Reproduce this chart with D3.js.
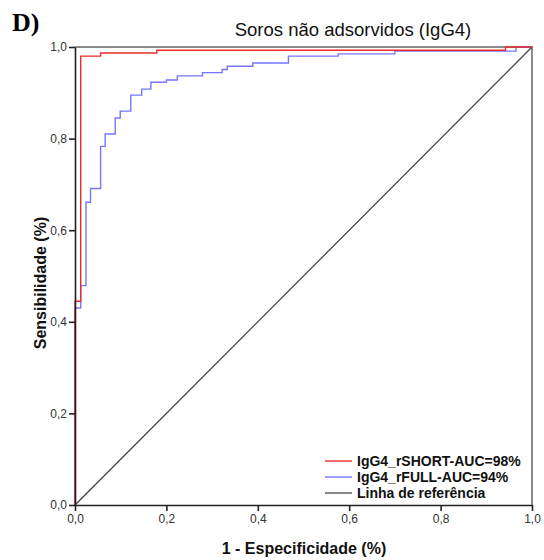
<!DOCTYPE html>
<html>
<head>
<meta charset="utf-8">
<script src="https://cdn.jsdelivr.net/npm/d3@7"></script>
<style>
  body { margin: 0; background: #fff; }
  svg { display: block; }
</style>
</head>
<body>
<svg id="chart" width="544" height="560"></svg>
<script>
// ROC vertices (1 - especificidade, sensibilidade)
const shortFpr = [0, 0, 0.0125, 0.056, 0.179, 0.942, 1];
const shortTpr = [0, 0.445, 0.980, 0.987, 0.993, 1.0, 1];

const fullFpr = [0, 0, 0.0125, 0.024, 0.034, 0.056, 0.066, 0.088, 0.099, 0.122, 0.146, 0.166,
  0.200, 0.224, 0.279, 0.322, 0.333, 0.389, 0.467, 0.576, 0.700, 0.965, 1];
const fullTpr = [0, 0.430, 0.479, 0.661, 0.691, 0.783, 0.810, 0.845, 0.860, 0.895, 0.908, 0.923,
  0.928, 0.937, 0.944, 0.951, 0.958, 0.965, 0.980, 0.985, 0.991, 1.0, 1];

const refLine = [[0, 0], [1, 1]];
const tickValues = [0, 0.2, 0.4, 0.6, 0.8, 1.0];
const legendLabels = ["IgG4_rSHORT-AUC=98%", "IgG4_rFULL-AUC=94%", "Linha de referência"];
const legendColors = ["#ee2b2b", "#7676ff", "#555"];

const svg = d3.select("#chart");
const margin = { left: 75, top: 47, right: 12, bottom: 55 };
const W = 544, H = 560;

const x = d3.scaleLinear().domain([0, 1]).range([margin.left, W - margin.right]);
const y = d3.scaleLinear().domain([0, 1]).range([H - margin.bottom, margin.top]);

const fmt = d => d3.format(".1f")(d).replace(".", ",");

// frame (top and right) in gray
svg.append("path")
  .attr("d", `M${x(0)},${y(1)}H${x(1)}V${y(0)}`)
  .attr("fill", "none")
  .attr("stroke", "#8a8a8a")
  .attr("stroke-width", 2);

// reference diagonal
let line = d3.line().x(p => x(p[0])).y(p => y(p[1]));
svg.append("path")
  .attr("d", line(refLine))
  .attr("fill", "none")
  .attr("stroke", "#444")
  .attr("stroke-width", 1.3);

// step curves
let stepLine = d3.line().x(p => x(p[0])).y(p => y(p[1])).curve(d3.curveStepAfter);

svg.append("path")
  .attr("d", stepLine(fullFpr.map((f, i) => [f, fullTpr[i]])))
  .attr("fill", "none")
  .attr("stroke", legendColors[1])
  .attr("stroke-width", 1.4);

svg.append("path")
  .attr("d", stepLine(shortFpr.map((f, i) => [f, shortTpr[i]])))
  .attr("fill", "none")
  .attr("stroke", legendColors[0])
  .attr("stroke-width", 1.4);

// axes
const xAxis = svg.append("g")
  .attr("transform", `translate(0,${y(0)})`)
  .call(d3.axisBottom(x).tickValues(tickValues).tickFormat(fmt).tickSize(6).tickPadding(3).tickSizeOuter(0));
const yAxis = svg.append("g")
  .attr("transform", `translate(${x(0)},0)`)
  .call(d3.axisLeft(y).tickValues(tickValues).tickFormat(fmt).tickSize(6).tickPadding(2).tickSizeOuter(0));

[xAxis, yAxis].forEach(g => {
  g.select(".domain").attr("stroke", "#222").attr("stroke-width", 1.6);
  g.selectAll(".tick line").attr("stroke", "#222").attr("stroke-width", 1.6);
  g.selectAll(".tick text")
    .attr("fill", "#333")
    .style("font-family", "Liberation Sans, Arial, sans-serif")
    .style("font-size", "12px");
});

// titles
svg.append("text")
  .attr("x", 12).attr("y", 31)
  .style("font-family", "Liberation Serif, Times New Roman, serif")
  .style("font-weight", "bold")
  .style("font-size", "26px")
  .text("D)");

svg.append("text")
  .attr("x", 353).attr("y", 36)
  .attr("text-anchor", "middle")
  .attr("fill", "#111")
  .style("font-family", "Liberation Sans, Arial, sans-serif")
  .style("font-size", "18.5px")
  .text("Soros não adsorvidos (IgG4)");

svg.append("text")
  .attr("x", 304).attr("y", 554)
  .attr("text-anchor", "middle")
  .attr("fill", "#111")
  .style("font-family", "Liberation Sans, Arial, sans-serif")
  .style("font-weight", "bold")
  .style("font-size", "16px")
  .text("1 - Especificidade (%)");

svg.append("text")
  .attr("transform", `translate(46,${(y(0) + y(1)) / 2 + 7}) rotate(-90)`)
  .attr("text-anchor", "middle")
  .attr("fill", "#111")
  .style("font-family", "Liberation Sans, Arial, sans-serif")
  .style("font-weight", "bold")
  .style("font-size", "16px")
  .text("Sensibilidade (%)");

// legend
const legend = svg.append("g").attr("transform", "translate(325,461)");
legendLabels.forEach((lab, i) => {
  let row = legend.append("g").attr("transform", `translate(0,${i * 16})`);
  row.append("line")
    .attr("x1", 0).attr("x2", 27)
    .attr("stroke", legendColors[i])
    .attr("stroke-width", 1.4);
  row.append("text")
    .attr("x", 32).attr("y", 5)
    .attr("fill", "#111")
    .style("font-family", "Liberation Sans, Arial, sans-serif")
    .style("font-weight", "bold")
    .style("font-size", "14px")
    .text(lab);
});
</script>
</body>
</html>
